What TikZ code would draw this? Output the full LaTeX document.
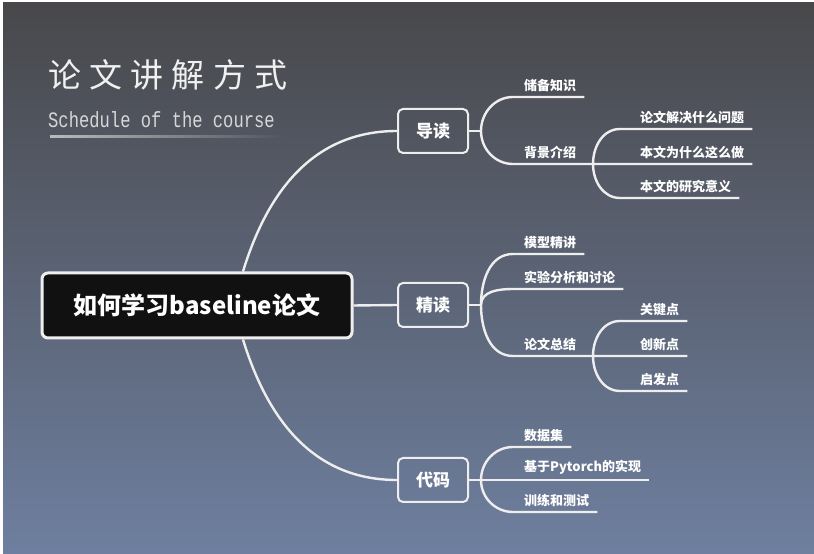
\documentclass[tikz,border=0pt]{standalone}
\usepackage{fontspec}
\newfontfamily\cjk{Noto Sans CJK SC}
\newfontfamily\cjktitle[LetterSpace=25]{Noto Sans CJK SC}
\newfontfamily\monofnt[FakeStretch=0.78]{Liberation Mono}
\usetikzlibrary{positioning,calc}
\definecolor{bgtop}{RGB}{72,72,75}
\definecolor{bgbot}{RGB}{110,127,159}
\definecolor{linewhite}{RGB}{238,238,238}
\definecolor{subgray}{RGB}{215,215,217}
\definecolor{rootblack}{RGB}{17,17,17}
\tikzset{
  link/.style={draw=linewhite, line width=2.4pt},
  rootbox/.style={fill=rootblack, draw=linewhite, line width=3pt, rounded corners=6pt,
    minimum width=310pt, minimum height=65pt, text=white,
    font=\cjk\bfseries\fontsize{24}{24}\selectfont},
  stagebox/.style={draw=linewhite, line width=2pt, rounded corners=5pt,
    minimum width=70pt, minimum height=44pt, text=white,
    font=\cjk\bfseries\fontsize{17}{17}\selectfont},
  leaftext/.style={anchor=south west, inner xsep=0pt, inner ysep=5pt, text=white,
    font=\cjk\bfseries\fontsize{13}{13}\selectfont,
    execute at begin node=\hspace*{#1}, execute at end node=\hspace*{8pt}},
  leaftext/.default=11pt,
}

\begin{document}
\begin{tikzpicture}[x=1pt,y=1pt]
      \useasboundingbox (0,0) rectangle (814,554);
      % Background with a thin white edge on the left and at the top
      \fill[white] (0,0) rectangle (814,554);
      \shade[top color=bgtop, bottom color=bgbot] (3,0) rectangle (814,551);

      % Title and subtitle
      \node[anchor=west, inner sep=0pt, text=white!94!black,
        font=\cjktitle\fontsize{33}{33}\selectfont] (title) at (48,479) {论文讲解方式};
      \node[anchor=west, inner sep=0pt, text=subgray,
        font=\monofnt\fontsize{22}{22}\selectfont] (subtitle) at (48,434) {Schedule of the course};
      \shade[left color=subgray!80!bgtop, right color=bgtop!75!bgbot] (50,416.5) rectangle (282,418.5);

      % Root box
      \node[rootbox] (root) at (197,248.5) {如何学习baseline论文};

      % Stage boxes
      \node[stagebox] (dao) at (433,423) {导读};
      \node[stagebox] (jing) at (433,249) {精读};
      \node[stagebox] (code) at (433,74) {代码};

      % Root to stages
      \draw[link] (root.east) -- (jing.west);
      \draw[link] ($(root.north)+(46,0)$) .. controls +(27,88) and +(-78,0) .. (dao.west);
      \draw[link] ($(root.south)+(46,0)$) .. controls +(27,-88) and +(-78,0) .. (code.west);

      % Junctions next to the stage boxes
      \coordinate (daoj) at ($(dao.east)+(12,0)$);
      \coordinate (jingj) at ($(jing.east)+(12,0)$);
      \coordinate (codej) at ($(code.east)+(12,0)$);
      \draw[link] (dao.east) -- (daoj);
      \draw[link] (jing.east) -- (jingj);
      \draw[link] (code.east) -- (codej);

      % Branch of the first stage
      \node[leaftext] (chubei) at (513,457) {储备知识};
      \node[leaftext] (beijing) at (513,390) {背景介绍};
      \coordinate (bgj) at (593,390);
      \node[leaftext=20pt] (wenti) at (620,425) {论文解决什么问题};
      \node[leaftext=20pt] (weishenme) at (620,390) {本文为什么这么做};
      \node[leaftext=20pt] (yiyi) at (620,356) {本文的研究意义};
      \draw[link] (daoj) to[out=90,in=180] (chubei.south west) -- (chubei.south east);
      \draw[link] (daoj) to[out=-90,in=180] (beijing.south west) -- (weishenme.south east);
      \draw[link] (bgj) to[out=90,in=180] (wenti.south west) -- (wenti.south east);
      \draw[link] (bgj) to[out=-90,in=180] (yiyi.south west) -- (yiyi.south east);

      % Branch of the second stage
      \node[leaftext] (moxing) at (513,300) {模型精讲};
      \node[leaftext] (shiyan) at (513,265) {实验分析和讨论};
      \node[leaftext] (zongjie) at (513,198) {论文总结};
      \coordinate (zjj) at (593,198);
      \node[leaftext=20pt] (guanjian) at (620,233) {关键点};
      \node[leaftext=20pt] (chuangxin) at (620,198) {创新点};
      \node[leaftext=20pt] (qifa) at (620,163) {启发点};
      \draw[link] (jingj) to[out=90,in=180] (moxing.south west) -- (moxing.south east);
      \draw[link] (jingj) to[out=90,in=180] (shiyan.south west) -- (shiyan.south east);
      \draw[link] (jingj) to[out=-90,in=180] (zongjie.south west) -- (chuangxin.south east);
      \draw[link] (zjj) to[out=90,in=180] (guanjian.south west) -- (guanjian.south east);
      \draw[link] (zjj) to[out=-90,in=180] (qifa.south west) -- (qifa.south east);

      % Branch of the third stage
      \node[leaftext] (shuju) at (513,107) {数据集};
      \node[leaftext] (pytorch) at (513,74) {基于Pytorch的实现};
      \node[leaftext] (xunlian) at (513,42) {训练和测试};
      \draw[link] (codej) to[out=90,in=180] (shuju.south west) -- (shuju.south east);
      \draw[link] (codej) -- (pytorch.south west) -- (pytorch.south east);
      \draw[link] (codej) to[out=-90,in=180] (xunlian.south west) -- (xunlian.south east);
    \end{tikzpicture}
\end{document}
